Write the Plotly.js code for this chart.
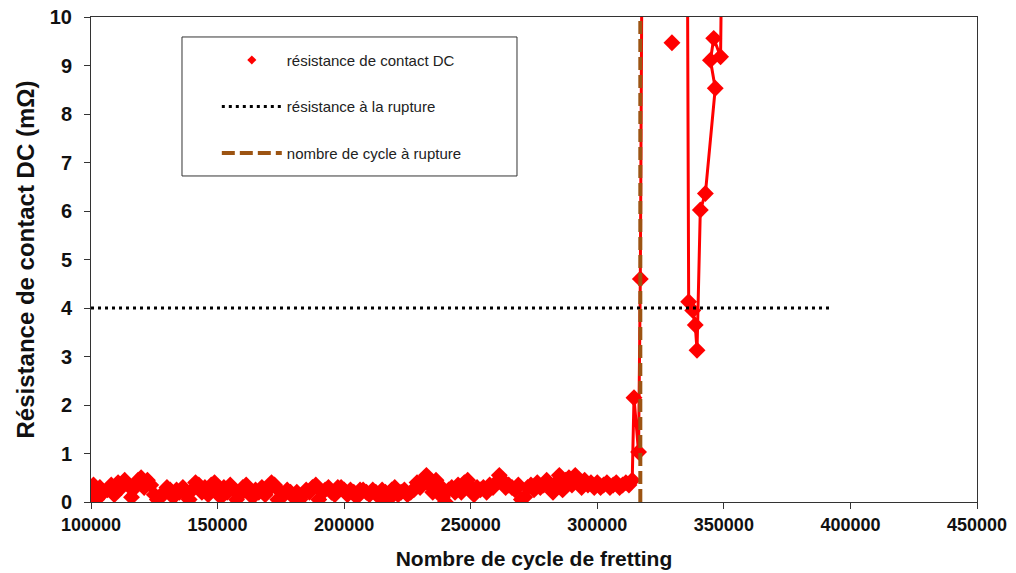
<!DOCTYPE html>
<html>
<head>
<meta charset="utf-8">
<script src="https://cdn.plot.ly/plotly-3.0.1.min.js"></script>
<style>
  html, body { margin: 0; padding: 0; background: #ffffff; }
  #chart { width: 1016px; height: 573px; }
</style>
</head>
<body>
<div id="chart"></div>
<script>
// Resistance de contact DC (mOhm) vs number of fretting cycles
const cycles = [
  100000,101000,102200,103500,105000,106500,108000,109200,110700,112000,
  113300,114600,116000,117400,118600,119800,121000,122300,123600,125000,
  126200,127500,128800,130000,131300,132500,133800,135000,136300,137500,
  138800,140000,141300,142600,143800,145000,146300,147500,148800,150000,
  151300,152500,153800,155000,156300,157500,158800,160000,161300,162500,
  163800,165000,166300,167500,168800,170000,171300,172500,173800,175000,
  176300,177500,178800,180000,181300,182500,183800,185000,186300,187500,
  188800,190000,191300,192500,193800,195000,196300,197500,198800,200000,
  201300,202500,203800,205000,206300,207500,208800,210000,211300,212500,
  213800,215000,216300,217500,218800,220000,221300,222500,223800,225000,
  226300,227500,228800,230000,231300,232500,233800,235000,236300,237500,
  238800,240000,241300,242500,243800,245000,246300,247500,248800,250000,
  251300,252500,253800,255000,256300,257500,258800,260000,261300,262500,
  263800,265000,266300,267500,268800,270000,271300,272500,273800,275000,
  276300,277500,278800,280000,281300,282500,283800,285000,286300,287500,
  288800,290000,291300,292500,293800,295000,296300,297500,298800,300000,
  301300,302500,303800,305000,306300,307500,308800,310000,311300,312500,
  313800,314500,316300,317000,318500,329000,329500,330000,335000,336100,
  337700,338700,339400,340700,342700,346600,344700,346000,348700,351000
];
const resistance = [
  0.25,0.35,0.05,0.30,0.20,0.25,0.35,0.15,0.40,0.30,
  0.45,0.35,0.10,0.30,0.45,0.50,0.30,0.45,0.35,0.15,
  0.05,0.10,0.20,0.30,0.25,0.10,0.25,0.20,0.30,0.15,
  0.05,0.25,0.40,0.35,0.20,0.30,0.15,0.35,0.40,0.25,
  0.10,0.30,0.20,0.35,0.25,0.05,0.15,0.30,0.35,0.20,
  0.10,0.25,0.20,0.30,0.15,0.25,0.40,0.35,0.05,0.20,
  0.15,0.25,0.20,0.10,0.20,0.05,0.15,0.25,0.20,0.30,
  0.35,0.05,0.20,0.25,0.30,0.20,0.15,0.30,0.30,0.25,
  0.15,0.25,0.20,0.10,0.25,0.25,0.20,0.15,0.25,0.20,
  0.10,0.25,0.20,0.05,0.25,0.30,0.15,0.20,0.25,0.15,
  0.20,0.25,0.40,0.30,0.45,0.55,0.35,0.20,0.45,0.35,
  0.10,0.00,0.25,0.30,0.20,0.35,0.20,0.40,0.45,0.30,
  0.15,0.30,0.25,0.30,0.20,0.35,0.30,0.40,0.55,0.45,
  0.30,0.35,0.30,0.25,0.35,0.05,0.10,0.30,0.35,0.25,
  0.40,0.30,0.35,0.45,0.30,0.20,0.40,0.55,0.25,0.45,
  0.50,0.35,0.55,0.40,0.30,0.45,0.35,0.40,0.30,0.40,
  0.30,0.35,0.40,0.30,0.35,0.40,0.30,0.35,0.40,0.35,
  0.45,2.15,1.03,4.60,20.0,null,9.47,null,20.0,4.13,
  3.95,3.65,3.13,6.02,6.36,8.53,9.11,9.56,9.18,20.0
];

// Rupture resistance threshold (horizontal dotted line)
const ruptureResX = [100000, 392000];
const ruptureResY = [4, 4];
// Number of cycles at rupture (vertical dashed line)
const ruptureCycX = [317000, 317000];
const ruptureCycY = [0, 10];

const legendNames = ['résistance de contact DC', 'résistance à la rupture', 'nombre de cycle à rupture'];
const xTicks = [100000, 150000, 200000, 250000, 300000, 350000, 400000, 450000];
const yTicks = [0,1,2,3,4,5,6,7,8,9,10];

const traces = [
  {
    x: cycles, y: resistance, type: 'scatter', mode: 'lines+markers',
    line: {color: '#ff0000', width: 3},
    marker: {symbol: 'diamond', size: 13, color: '#ff0000'},
    connectgaps: false, showlegend: false, hoverinfo: 'x+y'
  },
  {
    x: cycles, y: resistance, type: 'scatter', mode: 'markers',
    marker: {symbol: 'diamond', size: 7, color: '#ff0000'},
    name: legendNames[0], legendgroup: 'a', showlegend: true
  },
  {
    x: ruptureResX, y: ruptureResY, type: 'scatter', mode: 'lines',
    line: {color: '#000000', width: 3, dash: '3px,4px'},
    name: legendNames[1], legendgroup: 'b'
  },
  {
    x: ruptureCycX, y: ruptureCycY, type: 'scatter', mode: 'lines',
    line: {color: '#9c5412', width: 4, dash: '13px,5px'},
    name: legendNames[2], legendgroup: 'c'
  }
];

const fam = 'Liberation Sans, Arial, sans-serif';

const layout = {
  width: 1016, height: 573,
  margin: {l: 91, r: 39, t: 17, b: 71},
  paper_bgcolor: '#ffffff', plot_bgcolor: '#ffffff',
  showlegend: true,
  legend: {
    x: 0.142, xanchor: 'left', y: 0.945, yanchor: 'top',
    bgcolor: 'rgba(0,0,0,0)', borderwidth: 0,
    font: {family: fam, size: 15, color: '#222222'},
    tracegroupgap: 24, itemsizing: 'trace', itemwidth: 60
  },
  xaxis: {
    range: [100000, 450000], tickvals: xTicks, ticktext: xTicks.map(String),
    showgrid: false, zeroline: false,
    showline: true, linecolor: '#333333', linewidth: 1, mirror: true,
    ticks: 'outside', ticklen: 6, tickcolor: '#333333',
    tickfont: {family: fam, size: 18, color: '#111111', weight: 'bold'},
    title: {text: '<b>Nombre de cycle de fretting</b>', font: {family: fam, size: 21, color: '#111111'}, standoff: 17}
  },
  yaxis: {
    range: [0, 10], tickvals: yTicks,
    showgrid: false, zeroline: false,
    showline: true, linecolor: '#333333', linewidth: 1, mirror: true,
    ticks: 'outside', ticklen: 6, tickcolor: '#333333', ticklabelstandoff: 8,
    tickfont: {family: fam, size: 20, color: '#111111', weight: 'bold'},
    title: {text: '<b>Résistance de contact DC (mΩ)</b>', font: {family: fam, size: 24, color: '#111111'}, standoff: 8}
  },
  shapes: [{
    type: 'rect', xref: 'paper', yref: 'paper',
    x0: 0.1027, x1: 0.4808, y0: 0.6722, y1: 0.9588,
    line: {color: '#333333', width: 1}, fillcolor: '#ffffff', layer: 'below'
  }]
};

Plotly.newPlot('chart', traces, layout, {displayModeBar: false, staticPlot: true});
</script>
</body>
</html>
